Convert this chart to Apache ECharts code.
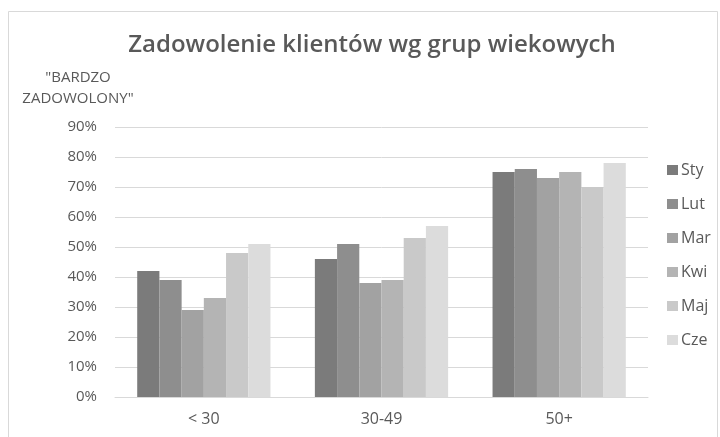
<!DOCTYPE html>
<html>
<head>
<meta charset="utf-8">
<script src="https://cdn.jsdelivr.net/npm/echarts@6/dist/echarts.min.js"></script>
<style>
  html, body { margin: 0; padding: 0; background: #fff; }
  #chart { width: 720px; height: 437px; }
</style>
</head>
<body>
<div id="chart"></div>
<script>
const groups = ['< 30', '30-49', '50+'];
const months = ['Sty', 'Lut', 'Mar', 'Kwi', 'Maj', 'Cze'];
const colors = ['#7b7b7b', '#8e8e8e', '#a2a2a2', '#b4b4b4', '#c9c9c9', '#dcdcdc'];
// % "bardzo zadowolony" per month, one value per age group
const sty = [42, 46, 75];
const lut = [39, 51, 76];
const mar = [29, 38, 73];
const kwi = [33, 39, 75];
const maj = [48, 53, 70];
const cze = [51, 57, 78];
const values = [sty, lut, mar, kwi, maj, cze];

const font = 'Open Sans, Lato, sans-serif';
const chart = echarts.init(document.getElementById('chart'), null, {renderer: 'canvas'});

chart.setOption({
    animation: false,
    backgroundColor: '#fff',
    textStyle: {fontFamily: font, color: '#595959'},
    title: {
        text: 'Zadowolenie klientów wg grup wiekowych',
        left: 367,
        textAlign: 'center',
        top: 28,
        textStyle: {fontFamily: font, fontSize: 24, fontWeight: 600, color: '#595959'}
    },
    graphic: [{
        type: 'rect',
        shape: {x: 8.5, y: 11.5, width: 709, height: 440},
        style: {fill: 'none', stroke: '#d9d9d9', lineWidth: 1},
        silent: true
    }, {
        type: 'text',
        x: 78,
        y: 67,
        style: {
            text: '"BARDZO\nZADOWOLONY"',
            fill: '#595959',
            font: '15px ' + font,
            align: 'center',
            lineHeight: 21
        }
    }],
    legend: {
        orient: 'vertical',
        left: 662,
        top: 157,
        itemWidth: 11,
        itemHeight: 10,
        itemGap: 18,
        icon: 'rect',
        textStyle: {fontFamily: font, fontSize: 16, color: '#595959', padding: [0, 0, 0, -2]},
        data: months
    },
    grid: {left: 115, right: 72, top: 127, bottom: 40},
    xAxis: {
        type: 'category',
        data: groups,
        axisLine: {lineStyle: {color: '#d9d9d9'}},
        axisTick: {show: false},
        axisLabel: {color: '#595959', fontSize: 16, margin: 14, fontFamily: font}
    },
    yAxis: {
        type: 'value',
        min: 0,
        max: 90,
        interval: 10,
        axisLine: {show: false},
        axisTick: {show: false},
        splitLine: {lineStyle: {color: '#d9d9d9'}},
        axisLabel: {color: '#595959', fontSize: 15, margin: 18, fontFamily: font, formatter: '{value}%'}
    },
    series: months.map((m, i) => ({
        name: m,
        type: 'bar',
        data: values[i],
        barGap: '0%',
        barCategoryGap: '25%',
        itemStyle: {color: colors[i]}
    }))
});
</script>
</body>
</html>
